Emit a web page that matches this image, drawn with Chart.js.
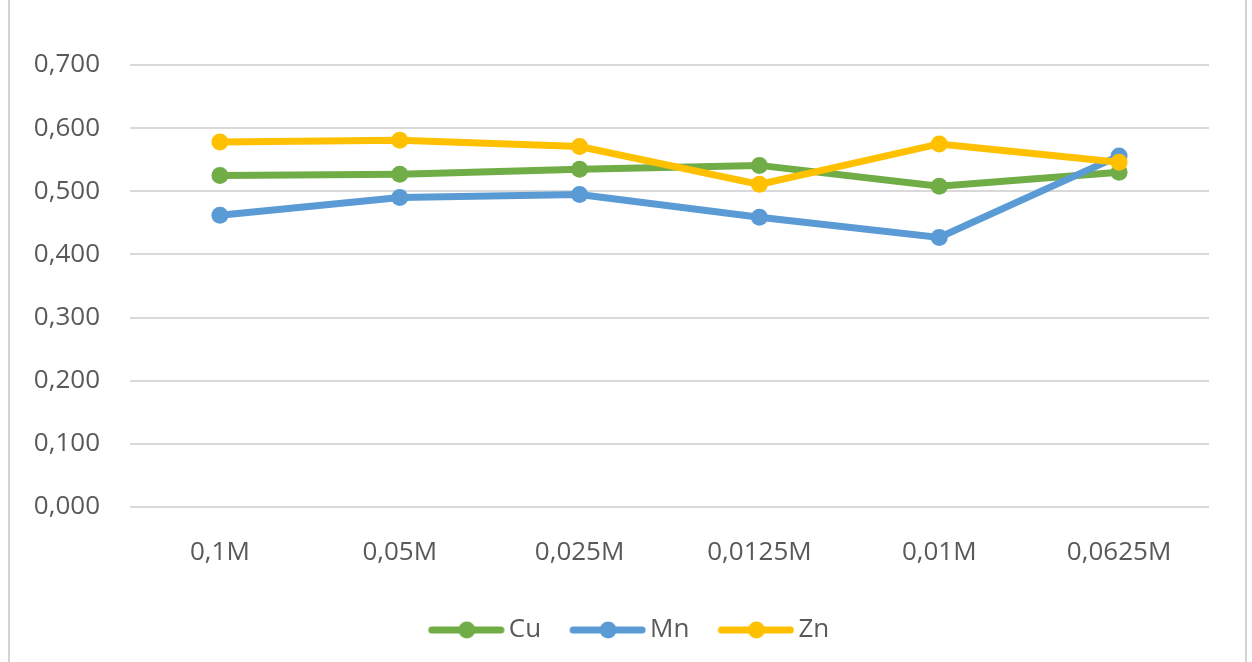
<!DOCTYPE html>
<html>
<head>
<meta charset="utf-8">
<script src="https://cdn.jsdelivr.net/npm/chart.js@4/dist/chart.umd.min.js"></script>
<style>
  html, body { margin: 0; padding: 0; background: #ffffff; }
  #wrap { position: relative; width: 1252px; height: 662px; overflow: hidden; }
  .edge { position: absolute; top: 0; width: 2px; height: 662px; background: #d4d4d4; }
</style>
</head>
<body>
<div id="wrap">
  <div class="edge" style="left:8px"></div>
  <div class="edge" style="left:1245px"></div>
  <canvas id="chart" width="1252" height="662"></canvas>
</div>
<script>
// Concentrations along the x axis
const categories = ['0,1M', '0,05M', '0,025M', '0,0125M', '0,01M', '0,0625M'];

// Measured values per metal
const cuValues = [0.525, 0.527, 0.535, 0.541, 0.508, 0.530];
const mnValues = [0.462, 0.490, 0.495, 0.459, 0.427, 0.556];
const znValues = [0.578, 0.581, 0.571, 0.511, 0.575, 0.546];

// Y axis range and step
const yMin = 0;
const yMax = 0.7;
const yStep = 0.1;

const seriesNames = ['Cu', 'Mn', 'Zn'];
const seriesColors = ['#70AD47', '#5B9BD5', '#FFC000'];
const textColor = '#595959';
const fontFamily = '"Open Sans", "Liberation Sans", sans-serif';
const fontSize = 26;

// Legend marker: a short line with a dot in the middle (blank space on the left for spacing)
function legendMarker(color) {
  const c = document.createElement('canvas');
  c.width = 104; c.height = 20;
  const g = c.getContext('2d');
  g.strokeStyle = color;
  g.lineWidth = 7;
  g.lineCap = 'round';
  g.beginPath();
  g.moveTo(31, 10); g.lineTo(100, 10);
  g.stroke();
  g.fillStyle = color;
  g.beginPath();
  g.arc(66, 10, 8.5, 0, Math.PI * 2);
  g.fill();
  return c;
}
const markers = seriesColors.map(legendMarker);

// Nudges the legend row sideways after layout
const legendShift = {
  id: 'legendShift',
  afterLayout(chart) {
    if (chart.legend) { chart.legend.left += 15; chart.legend.right += 15; }
  }
};

const seriesData = [cuValues, mnValues, znValues];
const datasets = seriesNames.map((name, i) => ({
  label: name,
  data: seriesData[i],
  borderColor: seriesColors[i],
  backgroundColor: seriesColors[i],
  borderWidth: 7,
  pointRadius: 8.5,
  pointHoverRadius: 8.5,
  pointBorderWidth: 0,
  pointBackgroundColor: seriesColors[i],
  tension: 0,
  order: seriesNames.length - i
}));

new Chart(document.getElementById('chart'), {
  type: 'line',
  data: { labels: categories, datasets },
  plugins: [legendShift],
  options: {
    responsive: false,
    animation: false,
    layout: { padding: { left: 0, right: 43, top: 65, bottom: 9 } },
    plugins: {
      tooltip: { enabled: false },
      title: { display: false },
      legend: {
        position: 'bottom',
        onClick: null,
        labels: {
          usePointStyle: true,
          pointStyleWidth: 86,
          padding: 10,
          color: textColor,
          font: { family: fontFamily, size: fontSize },
          generateLabels: () => seriesNames.map((name, i) => ({
            text: name,
            fillStyle: seriesColors[i],
            strokeStyle: seriesColors[i],
            lineWidth: 0,
            pointStyle: markers[i],
            hidden: false,
            datasetIndex: i,
            fontColor: textColor
          }))
        }
      }
    },
    scales: {
      x: {
        offset: true,
        grid: { display: false, drawTicks: false, offset: true },
        border: { display: false },
        ticks: {
          color: textColor,
          padding: 30,
          font: { family: fontFamily, size: fontSize },
          maxRotation: 0
        },
        afterFit: (s) => { s.height = 100; }
      },
      y: {
        min: yMin,
        max: yMax,
        grid: { color: '#d9d9d9', lineWidth: 2, drawTicks: false },
        border: { display: false },
        ticks: {
          stepSize: yStep,
          color: textColor,
          padding: 30,
          font: { family: fontFamily, size: fontSize },
          callback: (v) => Number(v).toFixed(3).replace('.', ',')
        },
        afterFit: (s) => { s.width = 130; }
      }
    }
  }
});
</script>
</body>
</html>
